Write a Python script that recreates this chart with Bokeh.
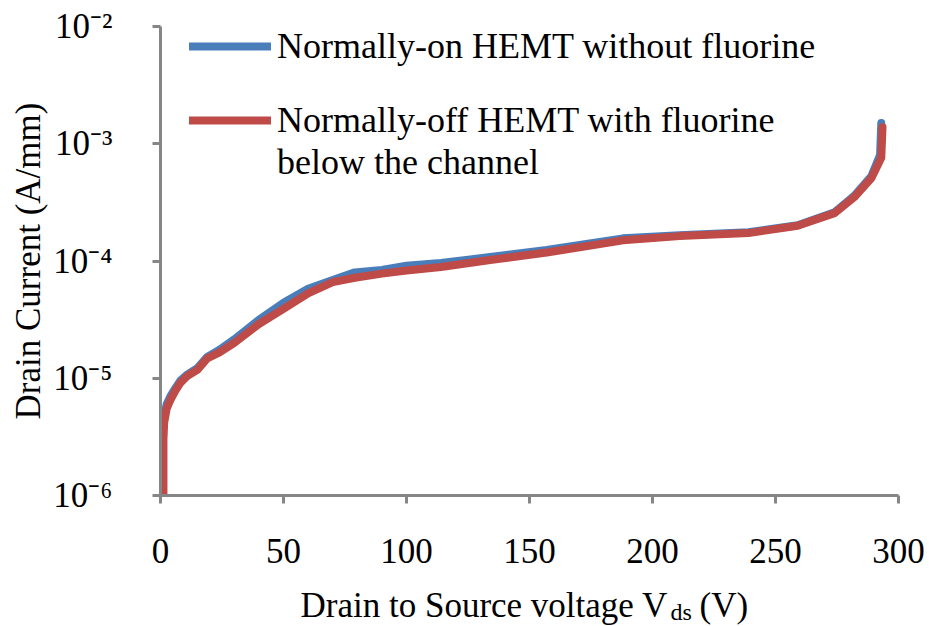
from bokeh.plotting import figure
from bokeh.layouts import column
from bokeh.models import (Legend, LegendItem, FixedTicker, CustomJSTickFormatter,
                          Label, Range1d)
from bokeh.embed import file_html
from bokeh.resources import INLINE

# ---- data ----
series_names = ["Normally-on HEMT without fluorine",
                "\nNormally-off HEMT with fluorine\nbelow the channel"]

v_on = [1.0, 1.0, 1.5, 2.5, 4, 6, 8, 11, 15, 19, 24, 30, 40, 50, 60, 70, 79, 90,
        100, 114, 134, 157, 188, 211, 239, 259, 274, 282, 289, 292.5, 293]
i_on = [1e-6, 3.5e-6, 4.8e-6, 6.0e-6, 7.0e-6, 8.2e-6, 9.5e-6, 1.08e-5, 1.22e-5,
        1.52e-5, 1.75e-5, 2.15e-5, 3.15e-5, 4.4e-5, 5.8e-5, 6.9e-5, 8.0e-5, 8.4e-5,
        9.1e-5, 9.6e-5, 1.08e-4, 1.24e-4, 1.56e-4, 1.66e-4, 1.76e-4, 2.02e-4,
        2.6e-4, 3.6e-4, 5.3e-4, 8.0e-4, 1.5e-3]

v_off = [1.2, 1.2, 1.5, 2.5, 4, 6, 8, 11, 15, 19, 24, 30, 40, 50, 60, 70, 79, 90,
         100, 114, 134, 157, 188, 211, 239, 259, 274, 282, 289, 293, 293.5]
i_off = [1e-6, 3.0e-6, 4.2e-6, 5.5e-6, 6.5e-6, 7.8e-6, 9.1e-6, 1.05e-5, 1.18e-5,
         1.48e-5, 1.66e-5, 2.0e-5, 2.9e-5, 3.9e-5, 5.3e-5, 6.6e-5, 7.2e-5, 7.8e-5,
         8.3e-5, 8.9e-5, 1.02e-4, 1.18e-4, 1.5e-4, 1.63e-4, 1.73e-4, 2.0e-4,
         2.56e-4, 3.5e-4, 5.1e-4, 7.6e-4, 1.38e-3]

x_ticks = [0, 50, 100, 150, 200, 250, 300]
y_ticks = [1e-6, 1e-5, 1e-4, 1e-3, 1e-2]
x_title = ["Drain to Source voltage V", "ds", "(V)"]
y_title = "Drain Current (A/mm)"

FONT = "Liberation Serif"
AX = "#868686"
BLUE = "#4a7ebb"
RED = "#be4b48"

W = 929
p = figure(width=W, height=579, y_axis_type="log",
           x_range=(0, 300), y_range=(1e-6, 1e-2),
           output_backend="svg", toolbar_location=None,
           min_border_left=160, min_border_right=31,
           min_border_top=26, min_border_bottom=84)
p.outline_line_color = None
p.grid.visible = False
p.background_fill_color = "white"
p.border_fill_color = "white"

r_on = p.line(v_on, i_on, line_color=BLUE, line_width=8,
              line_cap="round", line_join="round")
r_off = p.line(v_off, i_off, line_color=RED, line_width=8,
               line_cap="round", line_join="round")

for ax in (p.xaxis[0], p.yaxis[0]):
    ax.axis_line_color = AX
    ax.axis_line_width = 3
    ax.major_tick_line_color = AX
    ax.major_tick_line_width = 3
    ax.major_tick_out = 8
    ax.major_tick_in = 0
    ax.minor_tick_line_color = None
    ax.major_label_text_font = FONT
    ax.major_label_text_font_size = "35px"
    ax.major_label_text_color = "black"

p.xaxis.ticker = FixedTicker(ticks=x_ticks)
p.xaxis.major_label_standoff = 35
p.yaxis.ticker = FixedTicker(ticks=y_ticks)
p.yaxis.major_label_standoff = 40
p.yaxis.formatter = CustomJSTickFormatter(code="""
const sup = {'-':'\u207b','0':'\u2070','1':'\u00b9','2':'\u00b2','3':'\u00b3',
             '4':'\u2074','5':'\u2075','6':'\u2076','7':'\u2077','8':'\u2078','9':'\u2079'};
const e = Math.round(Math.log10(tick));
return '10' + String(e).split('').map(c => sup[c]).join('');
""")

p.yaxis.axis_label = y_title
p.yaxis.axis_label_text_font = FONT
p.yaxis.axis_label_text_font_size = "35px"
p.yaxis.axis_label_text_font_style = "normal"
p.yaxis.axis_label_text_color = "black"
p.yaxis.axis_label_standoff = 2

legend_style = dict(border_line_color=None, background_fill_alpha=0,
                    label_text_font=FONT, label_text_font_size="36px",
                    label_text_color="black", label_text_line_height=1.065,
                    glyph_width=82, glyph_height=40, label_standoff=6,
                    spacing=0, padding=0, margin=0, label_height=40)
legend_on = Legend(items=[LegendItem(label=series_names[0], renderers=[r_on])],
                   **legend_style)
legend_on.location = (29, 428)
legend_off = Legend(items=[LegendItem(label=series_names[1], renderers=[r_off])],
                    **legend_style)
legend_off.location = (29, 312)
p.add_layout(legend_on)
p.add_layout(legend_off)

# x-axis title (with subscript) in a strip under the chart
p2 = figure(width=W, height=47, output_backend="svg", toolbar_location=None,
            x_range=Range1d(160, 898), y_range=Range1d(626, 579),
            x_axis_type=None, y_axis_type=None, min_border=0)
p2.outline_line_color = None
p2.grid.visible = False
p2.background_fill_color = "white"
p2.border_fill_color = "white"
p2.add_layout(Label(x=300, y=605, text=x_title[0],
                    text_font=FONT, text_font_size="35px", text_align="left",
                    text_baseline="alphabetic", text_color="black"))
p2.add_layout(Label(x=670, y=611, text=x_title[1],
                    text_font=FONT, text_font_size="24px", text_align="left",
                    text_baseline="alphabetic", text_color="black"))
p2.add_layout(Label(x=699, y=605, text=x_title[2],
                    text_font=FONT, text_font_size="35px", text_align="left",
                    text_baseline="alphabetic", text_color="black"))

open("out.html", "w").write(file_html(column(p, p2, spacing=0), INLINE))
